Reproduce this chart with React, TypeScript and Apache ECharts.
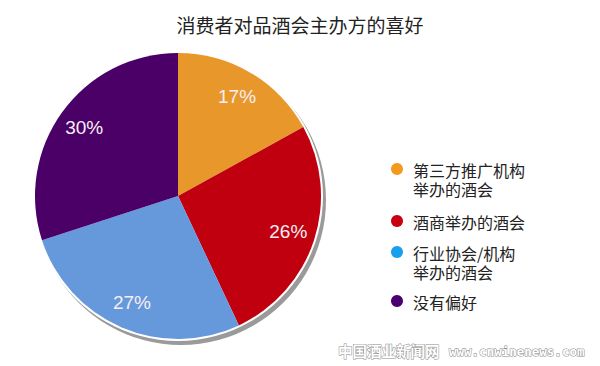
import React, { useEffect, useRef } from "react";
import * as echarts from "echarts";

const titleText = "消费者对品酒会主办方的喜好";
const categories = ["第三方推广机构\n举办的酒会", "酒商举办的酒会", "行业协会/机构\n举办的酒会", "没有偏好"];
const values = [17, 26, 27, 30];
const sliceColors = ["#E8982B", "#C1000F", "#6698DC", "#4A0066"];
const legendColors = ["#F39A1E", "#C80012", "#18A0EC", "#4A0070"];
const watermark = "中国酒业新闻网";
const watermarkUrl = "www.cnwinenews.com";

export default function App() {
  const ref = useRef<HTMLDivElement>(null);
  useEffect(() => {
    document.body.style.margin = "0";
    if (!ref.current) return;
    const chart = echarts.init(ref.current, null, { renderer: "svg" });
    const legendY = [169, 221, 252, 301];
    const graphics: any[] = [];
    categories.forEach((c, i) => {
      graphics.push({
        type: "circle",
        shape: { cx: 397, cy: legendY[i], r: 6 },
        style: { fill: legendColors[i] },
      });
      c.split("\n").forEach((line, j) => {
        graphics.push({
          type: "text",
          x: 413,
          y: legendY[i] + 1 + j * 19,
          style: {
            text: line,
            fill: "#222",
            font: "16px 'Noto Sans CJK SC'",
            lineHeight: 17,
            textVerticalAlign: "middle",
          },
        });
      });
    });
    graphics.push({
      type: "text",
      x: 338,
      y: 350,
      style: {
        text: watermark,
        fill: "#fff",
        stroke: "#8a8a8a",
        lineWidth: 1,
        font: "bold 14.5px 'Noto Sans CJK SC'",
        textVerticalAlign: "middle",
      },
    });
    graphics.push({
      type: "text",
      x: 449,
      y: 351,
      style: {
        text: watermarkUrl,
        fill: "#fff",
        stroke: "#8a8a8a",
        lineWidth: 1,
        font: "bold 12.5px 'DejaVu Sans Mono'",
        textVerticalAlign: "middle",
      },
    });
    chart.setOption({
      animation: false,
      backgroundColor: "#fff",
      title: {
        text: titleText,
        left: "center",
        top: 10,
        textStyle: { fontSize: 19, fontWeight: "normal", color: "#222", fontFamily: "Noto Sans CJK SC" },
      },
      graphic: graphics,
      series: [
        {
          type: "pie",
          silent: true,
          center: [181, 200],
          radius: 145,
          label: { show: false },
          labelLine: { show: false },
          data: [{ value: 1, itemStyle: { color: "#9a9a9a" } }],
          z: 1,
        },
        {
          type: "pie",
          silent: true,
          center: [178, 196],
          radius: 145,
          label: { show: false },
          labelLine: { show: false },
          data: [{ value: 1, itemStyle: { color: "#ffffff" } }],
          z: 2,
        },
        {
          type: "pie",
          silent: true,
          center: [178, 196],
          radius: 143,
          startAngle: 90,
          clockwise: true,
          label: { show: false },
          labelLine: { show: false },
          data: values.map((v, i) => ({ value: v, name: categories[i], itemStyle: { color: sliceColors[i] } })),
          z: 3,
        },
        {
          type: "pie",
          silent: true,
          center: [178, 196],
          radius: [84, 142],
          startAngle: 90,
          clockwise: true,
          itemStyle: { color: "rgba(0,0,0,0)" },
          label: {
            show: true,
            position: "inside",
            formatter: (p: any) => p.value + "%",
            color: "#f6eef4",
            fontSize: 19,
            fontFamily: "Liberation Sans",
          },
          labelLine: { show: false },
          data: values.map((v, i) => ({ value: v, name: categories[i] })),
          z: 4,
        },
      ],
    });
    return () => chart.dispose();
  }, []);
  return <div ref={ref} style={{ width: 600, height: 366 }} />;
}
